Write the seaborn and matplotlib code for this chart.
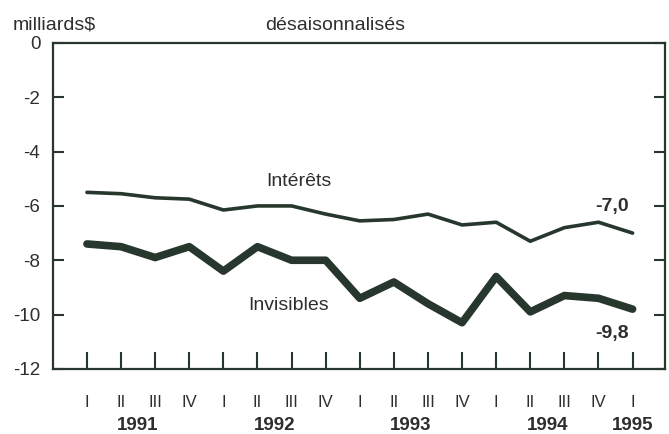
import numpy as np
import pandas as pd
import matplotlib
matplotlib.use('Agg')
import matplotlib.pyplot as plt
import matplotlib.transforms as mtransforms
import seaborn as sns

# quarterly data, 1991 I to 1995 I
quarters = ['I', 'II', 'III', 'IV'] * 4 + ['I']
years = ['1991', '1992', '1993', '1994', '1995']
interets = [-5.5, -5.55, -5.7, -5.75, -6.15, -6.0, -6.0, -6.3, -6.55,
            -6.5, -6.3, -6.7, -6.6, -7.3, -6.8, -6.6, -7.0]
invisibles = [-7.4, -7.5, -7.9, -7.5, -8.4, -7.5, -8.0, -8.0, -9.4,
              -8.8, -9.6, -10.3, -8.6, -9.9, -9.3, -9.4, -9.8]

df = pd.DataFrame({'t': np.arange(len(quarters)),
                   'Intérêts': interets,
                   'Invisibles': invisibles})

sns.set_style('white')
plt.rcParams['font.family'] = ['Liberation Sans', 'DejaVu Sans']

ink = '#27372d'
txt = '#2e2e2e'
fs = 14

fig = plt.figure(figsize=(6.69, 4.34), dpi=100)
ax = fig.add_axes([0.079, 0.150, 0.915, 0.751])

sns.lineplot(data=df, x='t', y='Intérêts', ax=ax, color=ink, lw=2.6)
sns.lineplot(data=df, x='t', y='Invisibles', ax=ax, color=ink, lw=5.5)

ax.set_xlim(-1.0, 16.95)
ax.set_ylim(-12, 0)
ax.set_xlabel('')
ax.set_ylabel('')

for s in ax.spines.values():
    s.set_color(ink)
    s.set_linewidth(1.6)

ax.set_yticks(range(-12, 1, 2))
ax.set_yticklabels([str(v) for v in range(-12, 1, 2)], fontsize=13.5, color=txt)
ax.tick_params(axis='y', direction='in', length=8, width=1.5, color=ink,
               left=True, right=True, pad=9)
ax.set_xticks(df['t'])
ax.set_xticklabels(quarters, fontsize=12, color=txt)
ax.tick_params(axis='x', direction='in', length=12, width=1.5, color=ink,
               bottom=True, pad=19)

# year labels under the quarters
trans = mtransforms.blended_transform_factory(ax.transData, fig.transFigure)
year_pos = [1.5, 5.5, 9.5, 13.5, 16]
for xp, yr in zip(year_pos, years):
    ax.text(xp, 0.0, yr, transform=trans, ha='center', va='bottom',
            fontsize=13.5, fontweight='bold', color=txt)

fig.text(0.019, 0.922, 'milliards$', fontsize=fs, color=txt, va='bottom')
fig.text(0.396, 0.922, 'désaisonnalisés', fontsize=fs, color=txt, va='bottom')

ax.text(6.2, -5.4, 'Intérêts', fontsize=fs, color=txt, ha='center', va='bottom')
ax.text(5.9, -9.65, 'Invisibles', fontsize=fs, color=txt, ha='center', va='center')
ax.text(15.4, -6.03, '-7,0', fontsize=fs, fontweight='bold', color=txt, ha='center', va='center')
ax.text(15.4, -10.7, '-9,8', fontsize=fs, fontweight='bold', color=txt, ha='center', va='center')

fig.savefig('out.png', dpi=100)
